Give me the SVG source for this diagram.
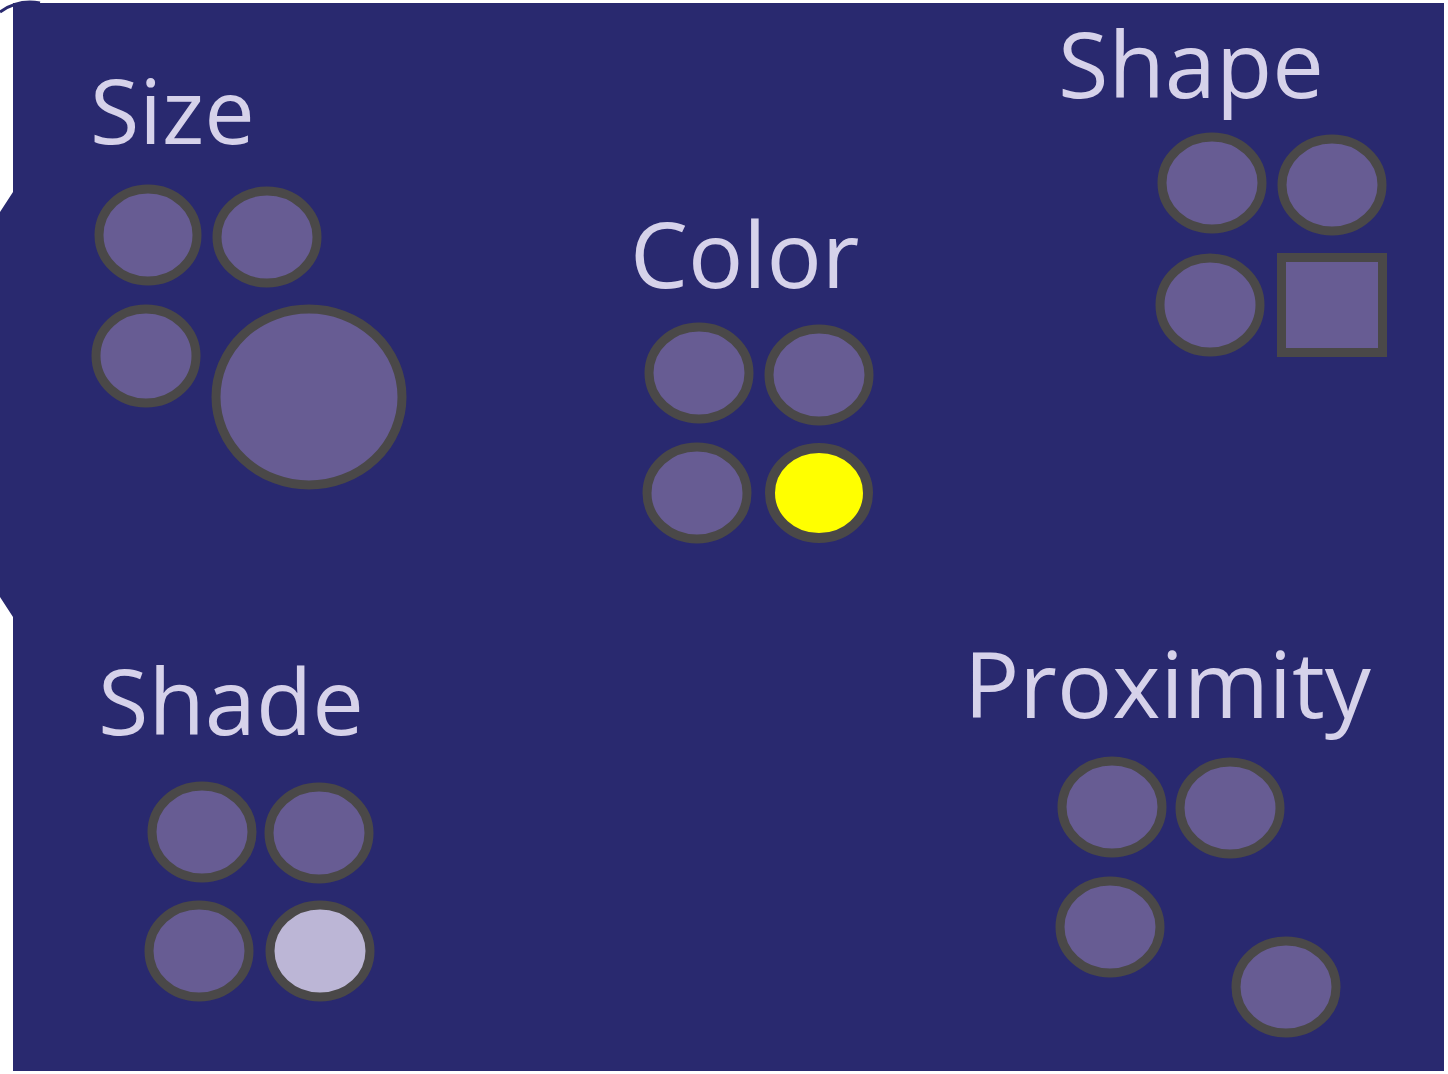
<svg xmlns="http://www.w3.org/2000/svg" width="1448" height="1074" viewBox="0 0 1448 1074">
  <style>
    .lbl { font-family: "Open Sans", "Noto Sans", "Liberation Sans", sans-serif; font-size: 92px; fill: #d6d2ea; }
    .dot { fill: #675c93; stroke: #4a4848; stroke-width: 9; }
    .hl { fill: #ffff00; stroke: #4a4848; stroke-width: 10; }
    .lt { fill: #bcb6d6; stroke: #4a4848; stroke-width: 9; }
  </style>
  <rect width="1448" height="1074" fill="#ffffff"/>
  <path d="M13,3 H1444 V1071 H13 V617 L0,597 V212 L13,192 Z" fill="#29296f"/>
  <path d="M0,12 Q18,-1 40,3" fill="none" stroke="#29296f" stroke-width="3"/>

  <g id="size">
    <text class="lbl" x="90" y="144" style="font-size:90px">Size</text>
    <ellipse class="dot" cx="148" cy="235" rx="49" ry="46"/>
    <ellipse class="dot" cx="267" cy="237" rx="50" ry="46"/>
    <ellipse class="dot" cx="146" cy="356" rx="50" ry="47"/>
    <ellipse class="dot" cx="309" cy="397" rx="93" ry="88"/>
  </g>

  <g id="color">
    <text class="lbl" x="630" y="288">Color</text>
    <ellipse class="dot" cx="699" cy="373" rx="50" ry="46"/>
    <ellipse class="dot" cx="819" cy="375" rx="50" ry="46"/>
    <ellipse class="dot" cx="697" cy="493" rx="50" ry="46"/>
    <ellipse class="hl" cx="819" cy="493" rx="49" ry="45"/>
  </g>

  <g id="shape">
    <text class="lbl" x="1058" y="98">Shape</text>
    <ellipse class="dot" cx="1212" cy="183" rx="50" ry="46"/>
    <ellipse class="dot" cx="1332" cy="185" rx="50" ry="46"/>
    <ellipse class="dot" cx="1210" cy="305" rx="50" ry="47"/>
    <rect class="dot" x="1281.5" y="257.5" width="101" height="95"/>
  </g>

  <g id="shade">
    <text class="lbl" x="98" y="735">Shade</text>
    <ellipse class="dot" cx="202" cy="832" rx="50" ry="46"/>
    <ellipse class="dot" cx="319" cy="833" rx="50" ry="46"/>
    <ellipse class="dot" cx="199" cy="951" rx="50" ry="46"/>
    <ellipse class="lt" cx="320" cy="951" rx="50" ry="46"/>
  </g>

  <g id="proximity">
    <text class="lbl" x="964" y="718">Proximity</text>
    <ellipse class="dot" cx="1112" cy="807" rx="50" ry="46"/>
    <ellipse class="dot" cx="1230" cy="808" rx="50" ry="46"/>
    <ellipse class="dot" cx="1110" cy="927" rx="50" ry="46"/>
    <ellipse class="dot" cx="1286" cy="987" rx="50" ry="46"/>
  </g>

  <g id="connectors"/>
</svg>
